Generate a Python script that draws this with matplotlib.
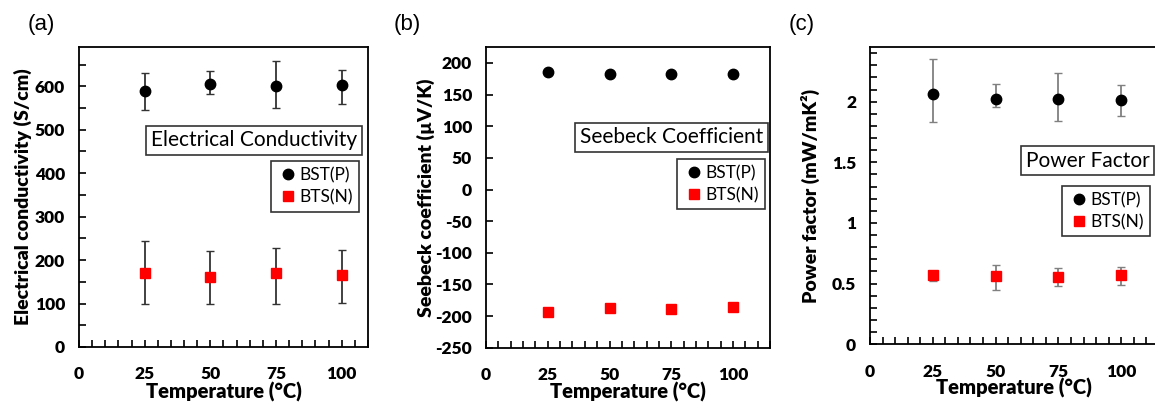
import matplotlib
matplotlib.use('Agg')
import matplotlib.pyplot as plt
from matplotlib.ticker import MultipleLocator

plt.rcParams['font.family'] = ['Lato', 'DejaVu Sans']
plt.rcParams['font.weight'] = 'heavy'
plt.rcParams['axes.unicode_minus'] = False

temps = [25, 50, 75, 100]

# (a) electrical conductivity, S/cm
sig_p = [590, 605, 600, 603]
sig_p_lo = [545, 582, 549, 560]
sig_p_hi = [631, 636, 659, 638]
sig_n = [170, 161, 170, 165]
sig_n_lo = [98, 98, 98, 102]
sig_n_hi = [244, 222, 227, 223]

# (b) seebeck coefficient, uV/K
see_p = [186, 182, 183, 182]
see_n = [-193, -187, -189, -186]

# (c) power factor, mW/mK2
pf_p = [2.06, 2.02, 2.02, 2.01]
pf_p_lo = [1.83, 1.96, 1.84, 1.88]
pf_p_hi = [2.35, 2.15, 2.24, 2.14]
pf_n = [0.57, 0.56, 0.55, 0.57]
pf_n_lo = [0.52, 0.45, 0.48, 0.49]
pf_n_hi = [0.59, 0.65, 0.63, 0.635]


def errs(v, lo, hi):
    return [[a - b for a, b in zip(v, lo)], [b - a for a, b in zip(v, hi)]]


fig = plt.figure(figsize=(11.55, 4.03), dpi=100)
ax_a = fig.add_axes([0.0684, 0.139, 0.2502, 0.744])
ax_b = fig.add_axes([0.4208, 0.137, 0.2459, 0.746])
ax_c = fig.add_axes([0.7532, 0.146, 0.2502, 0.737])


def style(ax, xmax, ymin, ymax, ymaj, ymin_step=None):
    ax.set_xlim(0, xmax)
    ax.set_ylim(ymin, ymax)
    ax.xaxis.set_major_locator(MultipleLocator(25))
    ax.xaxis.set_minor_locator(MultipleLocator(5))
    ax.yaxis.set_major_locator(MultipleLocator(ymaj))
    if ymin_step:
        ax.yaxis.set_minor_locator(MultipleLocator(ymin_step))
    ax.tick_params(which='both', direction='in', length=5, width=1.2, top=False, right=False)
    ax.tick_params(axis='x', which='major', pad=14, labelsize=12.5)
    ax.tick_params(axis='y', which='major', pad=10, labelsize=12.5)
    for s in ax.spines.values():
        s.set_linewidth(1.3)
    ax.set_xlabel('Temperature (°C)', fontsize=14.5, fontweight='heavy', va='top')
    ax.xaxis.set_label_coords(0.5, -0.115)


style(ax_a, 110, 0, 690, 100, 50)
style(ax_b, 115, -250, 225, 50)
style(ax_c, 115, 0, 2.45, 0.5, 0.1)
ax_c.yaxis.set_major_formatter(plt.FuncFormatter(lambda v, pos: '%g' % v))

# panel a
a1 = ax_a.errorbar(temps, sig_p, yerr=errs(sig_p, sig_p_lo, sig_p_hi), fmt='o', color='black',
                   ecolor='#333333', elinewidth=1.3, capsize=3, markersize=7.5)
a2 = ax_a.errorbar(temps, sig_n, yerr=errs(sig_n, sig_n_lo, sig_n_hi), fmt='s', color='#ff0000',
                   ecolor='#333333', elinewidth=1.3, capsize=3, markersize=7)
ax_a.set_ylabel('Electrical conductivity (S/cm)', fontsize=14, fontweight='heavy')
ax_a.yaxis.set_label_coords(-0.163, 0.5)

# panel b
b1 = ax_b.errorbar(temps, see_p, yerr=3, fmt='o', color='black', ecolor='#333333',
                   capsize=2, markersize=7.5)
b2 = ax_b.errorbar(temps, see_n, yerr=3, fmt='s', color='#ff0000', ecolor='#333333',
                   capsize=2, markersize=7)
ax_b.set_ylabel('Seebeck coefficient (µV/K)', fontsize=14, fontweight='heavy')
ax_b.yaxis.set_label_coords(-0.18, 0.5)

# panel c
c1 = ax_c.errorbar(temps, pf_p, yerr=errs(pf_p, pf_p_lo, pf_p_hi), fmt='o', color='black',
                   ecolor='#808080', elinewidth=1.3, capsize=3, markersize=7.5)
c2 = ax_c.errorbar(temps, pf_n, yerr=errs(pf_n, pf_n_lo, pf_n_hi), fmt='s', color='#ff0000',
                   ecolor='#808080', elinewidth=1.3, capsize=3, markersize=7)
ax_c.set_ylabel('Power factor (mW/mK²)', fontsize=14, fontweight='heavy')
ax_c.yaxis.set_label_coords(-0.173, 0.5)

boxes = [(ax_a, a1, a2, 'Electrical Conductivity', 0.962, 0.69, 0.969, 0.62),
         (ax_b, b1, b2, 'Seebeck Coefficient', 0.976, 0.70, 0.982, 0.628),
         (ax_c, c1, c2, 'Power Factor', 0.968, 0.618, 0.97, 0.533)]
for ax, p, n, name, tx, ty, lx, ly in boxes:
    ax.text(tx, ty, name, transform=ax.transAxes, ha='right', va='center', fontsize=15,
            fontweight='normal',
            bbox=dict(boxstyle='square,pad=0.22', fc='white', ec='#333333', lw=1.2))
    leg = ax.legend([p[0], n[0]], ['BST(P)', 'BTS(N)'], loc='upper right',
                    bbox_to_anchor=(lx, ly), prop={'size': 12.5, 'weight': 'normal'},
                    frameon=True, fancybox=False, edgecolor='#333333', borderaxespad=0,
                    handletextpad=0.0, handlelength=1.3, borderpad=0.35, labelspacing=0.35,
                    framealpha=1)
    leg.get_frame().set_linewidth(1.2)

for x, s in [(0.0355, '(a)'), (0.3528, '(b)'), (0.694, '(c)')]:
    fig.text(x, 0.938, s, fontsize=16, ha='center', va='center', fontweight='normal',
             family=['Liberation Sans'])

fig.savefig('out.png', dpi=100)
